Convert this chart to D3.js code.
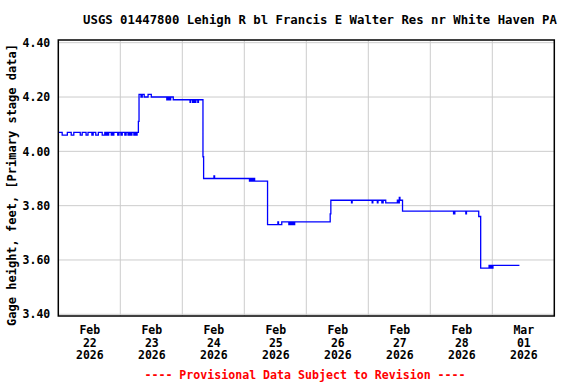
<!DOCTYPE html>
<html>
<head>
<meta charset="utf-8">
<script src="https://cdn.jsdelivr.net/npm/d3@7"></script>
<style>
  html, body { margin: 0; padding: 0; background: #fff; }
  svg { display: block; }
  text { font-family: "DejaVu Sans Mono", "Liberation Mono", monospace; font-weight: bold; }
</style>
</head>
<body>
<svg id="chart" width="576" height="384"></svg>
<script>
// ---- DATA ----
const chartTitle = "USGS 01447800 Lehigh R bl Francis E Walter Res nr White Haven PA";
const yAxisTitle = "Gage height, feet, [Primary stage data]";
const footerText = "---- Provisional Data Subject to Revision ----";

// hours after 2026-02-22 00:00 where the gage height changes (step series)
const hours = [
  0, 1.5, 3.5, 5.0, 6.0, 8.5, 9.25, 10.75, 11.5, 13.0, 13.5, 14.5, 15.5, 17.0, 18.0,
  18.5, 19.0, 19.25, 19.5, 20.5, 20.75, 21.25, 21.5, 23.0, 23.5, 24.25, 24.75,
  25.75, 26.25, 27.0, 27.5, 28.0, 28.5, 29.25, 29.75, 30.25, 30.5,
  31.0, 31.25, 32.0, 32.5, 33.25, 34.75, 36.0,
  42.0, 42.5, 43.0, 43.5, 44.5,
  51.0, 51.25, 52.0, 52.5, 53.0, 53.25, 54.0, 54.25,
  56.0, 56.25, 60.25, 60.5,
  74.0, 74.5, 75.0, 75.5, 76.0,
  81.0, 85.0, 85.25, 86.5,
  89.25, 89.75, 90.25, 90.5, 91.0, 91.5,
  105.25, 105.5,
  113.5, 113.75, 121.5, 121.75, 123.5, 123.75, 125.25, 125.75, 126.75,
  131.25, 131.5, 132.0, 132.25, 133.25,
  153.0, 153.5, 157.75, 158.0,
  162.75, 163.5,
  166.75, 167.25, 167.5, 168.0, 168.25,
  178.5
];
const stage = [
  4.07, 4.06, 4.07, 4.06, 4.07, 4.06, 4.07, 4.06, 4.07, 4.06, 4.07, 4.06, 4.07, 4.06, 4.07,
  4.06, 4.07, 4.06, 4.07, 4.06, 4.07, 4.06, 4.07, 4.06, 4.07, 4.06, 4.07,
  4.06, 4.07, 4.06, 4.07, 4.06, 4.07, 4.06, 4.07, 4.06, 4.07,
  4.11, 4.21, 4.20, 4.21, 4.20, 4.21, 4.20,
  4.19, 4.20, 4.19, 4.20, 4.19,
  4.18, 4.19, 4.18, 4.19, 4.18, 4.19, 4.18, 4.19,
  3.98, 3.90, 3.91, 3.90,
  3.89, 3.90, 3.89, 3.90, 3.89,
  3.73, 3.74, 3.73, 3.74,
  3.73, 3.74, 3.73, 3.74, 3.73, 3.74,
  3.77, 3.82,
  3.81, 3.82, 3.81, 3.82, 3.81, 3.82, 3.81, 3.82, 3.81,
  3.82, 3.81, 3.83, 3.82, 3.78,
  3.77, 3.78, 3.77, 3.78,
  3.76, 3.57,
  3.58, 3.57, 3.58, 3.57, 3.58,
  3.58
];

const yTicks = [3.40, 3.60, 3.80, 4.00, 4.20, 4.40];
const tickMonths = ["Feb", "Feb", "Feb", "Feb", "Feb", "Feb", "Feb", "Mar"];
const tickDays   = ["22", "23", "24", "25", "26", "27", "28", "01"];
const tickYears  = ["2026", "2026", "2026", "2026", "2026", "2026", "2026", "2026"];

// ---- CHART ----
const start = new Date(2026, 1, 22, 0, 0);
const end = new Date(2026, 2, 2, 0, 0);
const hourMs = 3600 * 1000;
const data = hours.map((h, i) => ({ t: new Date(start.getTime() + h * hourMs), v: stage[i] }));

const svg = d3.select("#chart");
const left = 58.3, right = 554.3;
const x = d3.scaleTime().domain([start, end]).range([left, right]);
const y = d3.scaleLinear().domain([3.40, 4.40]).range([314.3, 42.7]);
const frameTop = 40, frameBottom = 316;

// grid
const midnights = d3.timeDay.range(d3.timeDay.offset(start, 1), end);
svg.append("g").selectAll("line").data(midnights).join("line")
  .attr("x1", d => x(d)).attr("x2", d => x(d))
  .attr("y1", frameTop).attr("y2", frameBottom)
  .attr("stroke", "#cccccc").attr("stroke-width", 1);
svg.append("g").selectAll("line").data(yTicks).join("line")
  .attr("x1", left).attr("x2", right)
  .attr("y1", d => y(d)).attr("y2", d => y(d))
  .attr("stroke", "#cccccc").attr("stroke-width", 1);

// data line
svg.append("path").datum(data)
  .attr("fill", "none").attr("stroke", "#0000ff").attr("stroke-width", 1.3)
  .attr("d", d3.line().curve(d3.curveStepAfter).x(d => x(d.t)).y(d => y(d.v)));

// frame
svg.append("rect").attr("x", left).attr("y", frameTop)
  .attr("width", right - left).attr("height", frameBottom - frameTop)
  .attr("fill", "none").attr("stroke", "#000").attr("stroke-width", 1.5);

// y axis
const yAxis = d3.axisLeft(y).tickValues(yTicks).tickSize(0).tickPadding(8).tickFormat(d3.format(".2f"));
const gy = svg.append("g").attr("transform", `translate(${left},0)`).call(yAxis);
gy.select(".domain").remove();
gy.selectAll("text").attr("font-size", "11.5px").attr("fill", "#000")
  .style("font-family", "'DejaVu Sans Mono', monospace").style("font-weight", "bold");

// x axis (labels at noon)
const noons = d3.timeDay.range(start, end).map(d => d3.timeHour.offset(d, 12));
const xAxis = d3.axisBottom(x).tickValues(noons).tickSize(0).tickFormat("");
const gx = svg.append("g").attr("transform", `translate(0,${frameBottom})`).call(xAxis);
gx.select(".domain").remove();
gx.selectAll(".tick").each(function(d, i) {
  const t = d3.select(this).append("text")
    .attr("text-anchor", "middle").attr("fill", "#000").attr("font-size", "11.5px");
  [tickMonths[i], tickDays[i], tickYears[i]].forEach((s, k) => {
    t.append("tspan").attr("x", 0).attr("y", 18 + k * 12.7).text(s);
  });
});

// titles
svg.append("text").attr("x", 320).attr("y", 24).attr("text-anchor", "middle")
  .attr("font-size", "12.3px").attr("fill", "#000").text(chartTitle);
svg.append("text").attr("transform", "translate(16,185) rotate(-90)")
  .attr("text-anchor", "middle").attr("font-size", "12px").attr("fill", "#000").text(yAxisTitle);
svg.append("text").attr("x", 305).attr("y", 379).attr("text-anchor", "middle")
  .attr("font-size", "11.6px").attr("fill", "#ff0000").text(footerText);
</script>
</body>
</html>
